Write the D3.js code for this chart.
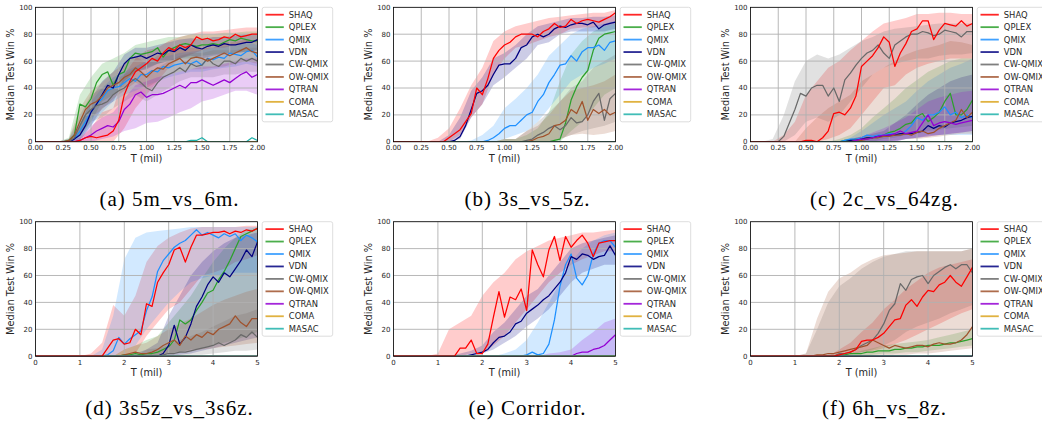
<!DOCTYPE html>
<html>
<head>
<meta charset="utf-8">
<script src="https://cdn.jsdelivr.net/npm/d3@7"></script>
<style>
    body { margin: 0; background: #fff; }
    .axis-text { font-family: "DejaVu Sans", sans-serif; fill: #262626; }
</style>
</head>
<body>
<svg id="fig" width="1042" height="421"></svg>
<script>
// legend order
var names = ["SHAQ", "QPLEX", "QMIX", "VDN", "CW-QMIX", "OW-QMIX", "QTRAN", "COMA", "MASAC"];
var colors = ["#ff0000", "#2ca02c", "#1e90ff", "#000080", "#696969", "#a0522d", "#9400d3", "#daa520", "#20b2aa"];

// T (mil) sample points
var tTop = [0,0.05,0.1,0.15,0.2,0.25,0.3,0.35,0.4,0.45,0.5,0.55,0.6,0.65,0.7,0.75,0.8,0.85,0.9,0.95,1,1.05,1.1,1.15,1.2,1.25,1.3,1.35,1.4,1.45,1.5,1.55,1.6,1.65,1.7,1.75,1.8,1.85,1.9,1.95,2];
var tBot = [0,0.125,0.25,0.375,0.5,0.625,0.75,0.875,1,1.125,1.25,1.375,1.5,1.625,1.75,1.875,2,2.125,2.25,2.375,2.5,2.625,2.75,2.875,3,3.125,3.25,3.375,3.5,3.625,3.75,3.875,4,4.125,4.25,4.375,4.5,4.625,4.75,4.875,5];
var bTop = [0,0.1,0.2,0.3,0.4,0.5,0.6,0.7,0.8,0.9,1,1.1,1.2,1.3,1.4,1.5,1.6,1.7,1.8,1.9,2];
var bBot = [0,0.25,0.5,0.75,1,1.25,1.5,1.75,2,2.25,2.5,2.75,3,3.25,3.5,3.75,4,4.25,4.5,4.75,5];

var ticksTop = [0, 0.25, 0.5, 0.75, 1, 1.25, 1.5, 1.75, 2];
var ticksBot = [0, 1, 2, 3, 4, 5];
var yTicks = [0, 20, 40, 60, 80, 100];

var flat41 = [0,0,0,0,0,0,0,0,0,0,0,0,0,0,0,0,0,0,0,0,0,0,0,0,0,0,0,0,0,0,0,0,0,0,0,0,0,0,0,0,0];
var flat21 = [0,0,0,0,0,0,0,0,0,0,0,0,0,0,0,0,0,0,0,0,0];

// (a) 5m_vs_6m medians
var shaqA  = [0,0,0,0,0,0,0,0,1,3,4,3,4,5,8,16,35,45,52,55,58,62,60,66,70,68,72,70,72,78,76,77,75,76,78,77,80,78,79,80,80];
var qplexA = [0,0,0,0,0,0,1,5,28,26,32,44,50,52,42,50,52,62,66,65,66,67,70,63,68,70,72,73,72,71,72,72,73,72,74,76,75,77,76,75,75];
var qmixA  = [0,0,0,0,0,0,0,2,8,15,22,28,32,38,40,41,44,47,45,50,50,53,52,56,55,57,58,59,58,60,57,62,61,63,62,66,65,64,67,68,63];
var vdnA   = [0,0,0,0,0,0,0,2,5,12,22,28,35,42,40,50,58,62,63,64,62,64,66,65,68,67,70,68,72,70,69,71,72,71,73,72,72,73,74,74,76];
var cwA    = [0,0,0,0,0,0,0,3,12,20,24,27,28,30,35,38,40,44,47,44,40,38,44,48,50,52,55,52,58,56,57,62,58,56,60,60,58,62,60,62,60];
var owA    = [0,0,0,0,0,0,1,5,15,24,28,30,34,40,42,44,48,50,55,52,48,52,55,54,58,60,62,58,62,63,62,60,62,64,66,64,66,68,70,67,66];
var qtranA = [0,0,0,0,0,0,0,0,1,3,5,8,10,12,11,15,24,28,35,37,33,35,35,36,38,40,42,40,44,44,46,44,42,44,46,44,47,50,52,48,50];
var masacA = [0,0,0,0,0,0,0,0,0,0,0,0,0,0,0,0,0,0,0,0,0,0,0,0,0,0,0,0,1,1,3,0,0,0,0,0,0,0,0,3,1];
// (a) spread
var shaqA_lo  = [0,0,0,0,0,0,0,0,10,25,35,45,55,62,65,68,70,70,72,74,74];
var shaqA_hi  = [0,0,0,0,3,10,22,25,50,62,68,70,75,78,80,82,82,83,84,85,85];
var qplexA_lo = [0,0,0,0,5,15,30,35,42,52,55,58,60,62,62,64,65,66,66,67,68];
var qplexA_hi = [0,0,0,3,35,48,58,62,66,72,74,76,78,78,80,80,80,81,81,82,82];
var qmixA_lo  = [0,0,0,0,2,12,22,30,35,38,42,45,48,50,52,52,54,55,56,58,56];
var qmixA_hi  = [0,0,0,2,15,30,40,48,52,56,60,62,64,66,67,68,70,71,72,74,72];
var vdnA_lo   = [0,0,0,0,1,12,25,30,45,52,54,58,60,62,64,62,64,65,66,67,68];
var vdnA_hi   = [0,0,0,1,12,32,45,52,65,70,70,72,74,76,77,76,78,78,79,80,80];
var cwA_lo    = [0,0,0,0,2,15,18,25,30,35,30,35,40,45,48,48,48,50,50,52,52];
var cwA_hi    = [0,0,0,2,20,35,40,45,50,55,50,55,60,64,66,66,68,68,68,70,70];
var owA_lo    = [0,0,0,0,5,18,24,32,38,44,40,45,50,52,54,54,55,56,58,60,58];
var owA_hi    = [0,0,0,2,25,38,44,52,58,64,58,64,66,70,70,70,70,74,74,76,74];
var qtranA_lo = [0,0,0,0,0,0,2,4,8,10,14,15,18,22,25,30,32,35,38,38,35];
var qtranA_hi = [0,0,0,0,2,12,18,22,32,42,45,48,50,52,54,56,56,58,60,62,62];

// (b) 3s_vs_5z
var shaqB  = [0,0,0,0,0,0,0,0,0,0,3,6,9,15,21,40,35,47,62,68,72,74,78,80,80,80,78,82,84,88,85,86,91,88,90,91,90,89,91,93,96];
var qplexB = [0,0,0,0,0,0,0,0,0,0,0,0,0,0,0,0,0,0,0,0,0,0,0,0,0,0,0,0,0,1,2,14,31,41,48,53,68,77,80,81,82];
var qmixB  = [0,0,0,0,0,0,0,0,0,0,0,0,0,0,0,0,0,1,3,6,10,12,12,16,20,22,30,35,44,50,57,58,64,60,67,70,70,72,68,74,75];
var vdnB   = [0,0,0,0,0,0,0,0,0,0,0,1,4,12,24,36,38,42,50,57,58,58,62,70,72,78,80,78,80,84,86,85,87,88,88,87,89,84,87,88,89];
var cwB    = [0,0,0,0,0,0,0,0,0,0,0,0,0,0,0,0,0,0,0,0,0,0,0,0,1,2,5,7,10,12,9,12,18,14,15,20,30,36,16,32,36];
var owB    = [0,0,0,0,0,0,0,0,0,0,0,0,0,0,0,0,0,0,0,0,0,0,0,0,0,1,3,4,6,12,13,16,24,21,30,16,24,21,24,20,22];
var shaqB_lo  = [0,0,0,0,0,0,5,18,28,50,62,70,72,75,78,80,84,85,85,86,88];
var shaqB_hi  = [0,0,0,0,3,10,25,42,55,75,82,86,88,90,92,93,94,95,96,96,98];
var qplexB_lo = [0,0,0,0,0,0,0,0,0,0,0,0,0,0,0,0,8,15,25,35,40];
var qplexB_hi = [0,0,0,0,0,0,0,0,0,0,2,2,5,10,22,45,65,75,82,86,88];
var qmixB_lo  = [0,0,0,0,0,0,0,0,0,0,2,5,8,15,25,35,45,50,55,58,62];
var qmixB_hi  = [0,0,0,0,0,0,0,1,5,12,25,32,40,50,64,72,80,84,86,88,90];
var vdnB_lo   = [0,0,0,0,0,0,2,18,28,42,48,55,62,72,74,80,82,82,82,82,84];
var vdnB_hi   = [0,0,0,0,0,5,18,38,48,62,66,72,80,86,88,90,92,92,93,93,94];
var cwB_lo    = [0,0,0,0,0,0,0,0,0,0,0,0,0,0,0,2,5,8,10,12,15];
var cwB_hi    = [0,0,0,0,0,0,0,0,0,0,2,2,8,15,22,30,40,45,55,60,65];
var owB_lo    = [0,0,0,0,0,0,0,0,0,0,0,0,0,0,0,2,5,6,5,6,8];
var owB_hi    = [0,0,0,0,0,0,0,0,0,0,2,2,8,12,20,30,38,40,42,45,50];

// (c) 2c_vs_64zg
var shaqC  = [0,0,0,0,0,0,0,0,0,0,1,1,0,3,8,21,22,20,25,34,56,60,64,70,78,74,56,66,73,82,84,90,90,76,83,88,87,86,90,86,88];
var qplexC = [0,0,0,0,0,0,0,0,0,0,0,0,0,0,0,0,0,1,1,2,2,3,3,4,5,7,8,10,13,14,19,21,15,18,22,30,36,20,20,24,31];
var qmixC  = [0,0,0,0,0,0,0,0,0,0,0,0,0,0,0,0,0,1,2,2,3,5,4,5,5,6,6,5,8,12,18,16,20,20,22,26,20,22,18,20,18];
var vdnC   = [0,0,0,0,0,0,0,0,0,0,0,0,0,0,0,0,0,0,1,1,2,3,3,4,4,5,5,6,6,6,7,8,12,10,12,11,14,15,16,18,19];
var cwC    = [0,0,0,0,0,0,4,14,24,36,34,40,42,42,34,40,30,46,51,57,62,66,68,72,66,62,72,75,78,80,80,82,81,79,80,83,82,81,78,82,82];
var owC    = [0,0,0,0,0,0,0,0,0,0,0,0,0,0,0,0,0,0,0,1,1,2,3,3,4,4,5,5,6,5,7,8,6,7,10,12,14,16,24,18,22];
var qtranC = [0,0,0,0,0,0,0,0,0,0,0,0,0,0,0,0,0,0,0,1,2,2,3,4,5,5,6,8,6,7,8,14,20,12,14,15,14,13,14,15,16];
var shaqC_lo  = [0,0,0,0,0,0,0,2,5,10,20,30,40,42,50,55,58,60,62,62,62];
var shaqC_hi  = [0,0,0,5,15,35,45,55,60,68,75,82,88,90,92,95,95,96,96,95,95];
var qplexC_lo = [0,0,0,0,0,0,0,0,0,0,0,0,2,3,5,6,8,9,10,11,12];
var qplexC_hi = [0,0,0,0,0,0,0,0,2,5,10,18,25,32,40,46,52,56,60,62,62];
var qmixC_lo  = [0,0,0,0,0,0,0,0,0,0,0,0,0,1,2,3,5,5,5,5,5];
var qmixC_hi  = [0,0,0,0,0,0,0,0,0,3,8,14,20,25,30,38,45,50,55,58,62];
var vdnC_lo   = [0,0,0,0,0,0,0,0,0,0,0,0,0,0,2,3,4,5,6,7,8];
var vdnC_hi   = [0,0,0,0,0,0,0,0,0,2,4,6,8,14,20,28,35,40,45,48,50];
var cwC_lo    = [0,0,0,0,5,15,18,15,20,30,40,50,55,58,60,62,62,64,65,65,66];
var cwC_hi    = [0,0,2,20,45,60,65,62,65,70,75,78,82,84,85,86,87,88,88,88,88];
var owC_lo    = [0,0,0,0,0,0,0,0,0,0,0,0,0,1,2,2,3,4,5,6,6];
var owC_hi    = [0,0,0,0,0,10,18,25,30,35,45,50,55,60,65,68,70,72,75,74,72];
var qtranC_lo = [0,0,0,0,0,0,0,0,0,0,0,0,0,0,2,3,4,5,6,7,8];
var qtranC_hi = [0,0,0,0,0,0,0,0,0,2,4,7,10,14,18,24,30,33,35,37,38];

// (d) 3s5z_vs_3s6z
var shaqD  = [0,0,0,0,0,0,0,0,0,0,0,0,0,6,12,13,9,10,20,16,39,37,55,62,68,79,81,70,81,90,90,91,92,92,93,91,93,92,94,93,95];
var qplexD = [0,0,0,0,0,0,0,0,0,0,0,0,0,0,0,0,1,1,2,1,2,2,3,5,7,12,27,24,27,34,40,47,49,57,63,71,80,89,91,93,95];
var qmixD  = [0,0,0,0,0,0,0,0,0,0,0,0,0,1,4,14,9,13,16,19,34,44,63,71,76,81,84,86,90,94,90,92,90,88,91,89,91,86,90,88,85];
var vdnD   = [0,0,0,0,0,0,0,0,0,0,0,0,0,0,0,0,0,0,0,0,0,0,0,2,8,23,9,14,24,37,44,53,59,55,62,59,65,71,79,74,85];
var cwD    = [0,0,0,0,0,0,0,0,0,0,0,0,0,0,0,0,0,0,0,0,0,0,0,1,2,2,3,3,4,5,6,7,8,10,8,10,12,16,14,18,14];
var owD    = [0,0,0,0,0,0,0,0,0,0,0,0,0,0,0,0,1,2,3,2,2,3,5,8,10,12,8,15,12,16,14,18,16,20,22,24,30,25,22,28,28];
var shaqD_lo  = [0,0,0,0,0,0,0,0,0,2,15,25,35,40,50,60,62,65,70,72,75];
var shaqD_hi  = [0,0,0,0,0,2,10,38,30,45,70,82,88,92,95,96,96,96,96,97,97];
var qplexD_lo = [0,0,0,0,0,0,0,0,0,0,0,0,2,3,5,6,8,10,12,15,18];
var qplexD_hi = [0,0,0,0,0,0,0,0,5,8,12,15,25,35,45,58,70,80,88,94,96];
var qmixD_lo  = [0,0,0,0,0,0,0,0,5,8,20,30,40,48,55,58,60,60,62,62,62];
var qmixD_hi  = [0,0,0,0,0,0,5,30,72,88,92,93,94,95,96,96,96,96,96,96,96];
var vdnD_lo   = [0,0,0,0,0,0,0,0,0,0,0,0,0,1,2,4,6,8,10,12,14];
var vdnD_hi   = [0,0,0,0,0,0,0,0,0,2,5,10,30,45,60,70,78,84,88,90,92];
var cwD_lo    = [0,0,0,0,0,0,0,0,0,0,0,0,0,0,1,1,2,3,4,4,5];
var cwD_hi    = [0,0,0,0,0,0,0,0,0,0,5,6,8,12,15,18,22,26,30,32,35];
var owD_lo    = [0,0,0,0,0,0,0,0,0,0,0,0,2,3,4,5,6,7,8,9,10];
var owD_hi    = [0,0,0,0,0,0,0,0,5,8,10,15,20,24,28,33,38,42,45,48,50];

// (e) Corridor
var shaqE  = [0,0,0,0,0,0,0,0,0,0,0,0,6,6,12,2,2,9,29,48,29,44,42,50,34,79,68,59,79,89,71,89,81,86,90,84,74,84,85,86,86];
var qmixE  = [0,0,0,0,0,0,0,0,0,0,0,0,0,0,0,0,0,0,0,0,0,0,0,0,1,3,1,2,9,27,52,68,76,58,53,60,76,84,86,86,81];
var vdnE   = [0,0,0,0,0,0,0,0,0,0,0,0,0,0,1,2,3,5,10,14,15,18,24,26,32,35,38,42,45,50,55,62,74,72,76,75,72,74,75,82,75];
var qtranE = [0,0,0,0,0,0,0,0,0,0,0,0,0,0,0,0,0,0,0,0,0,0,0,0,0,0,0,0,0,0,0,0,0,2,3,3,5,6,8,12,16];
var shaqE_lo  = [0,0,0,0,0,0,0,2,2,8,15,25,35,45,55,62,68,72,75,78,78];
var shaqE_hi  = [0,0,0,0,2,20,25,30,45,55,62,72,78,82,86,88,90,92,92,93,94];
var qmixE_hi  = [0,0,0,0,0,0,0,0,0,0,2,5,12,25,40,55,70,80,86,90,92];
var vdnE_lo   = [0,0,0,0,0,0,0,0,2,5,10,15,22,28,35,45,55,62,65,68,68];
var vdnE_hi   = [0,0,0,0,0,0,2,4,8,18,25,35,45,50,60,70,80,84,86,88,90];
var qtranE_hi = [0,0,0,0,0,0,0,0,0,0,0,0,0,0,2,3,5,12,18,25,28];

// (f) 6h_vs_8z
var shaqF  = [0,0,0,0,0,0,0,0,0,0,0,0,0,0,0,0,1,2,3,5,11,12,12,14,17,22,27,28,38,42,37,44,49,48,53,55,60,55,52,59,66];
var qplexF = [0,0,0,0,0,0,0,0,0,0,0,0,0,0,0,0,1,1,2,2,2,3,3,4,4,4,5,5,6,6,7,7,8,8,8,9,10,10,11,12,13];
var cwF    = [0,0,0,0,0,0,0,0,0,0,0,0,0,0,0,0,2,2,3,5,8,10,12,17,24,34,39,54,49,57,59,60,54,60,63,66,68,65,68,68,62];
var owF    = [0,0,0,0,0,0,0,0,0,0,0,0,1,1,2,2,3,4,5,6,7,8,12,10,8,6,8,7,6,7,8,8,7,9,10,9,9,10,12,16,22];
var shaqF_lo  = [0,0,0,0,0,0,0,0,0,1,3,4,6,9,12,16,20,24,28,32,35];
var shaqF_hi  = [0,0,0,0,0,0,0,0,5,10,18,25,35,42,50,56,62,66,68,70,72];
var qplexF_lo = [0,0,0,0,0,0,0,0,0,0,0,1,2,2,3,3,4,5,6,7,8];
var qplexF_hi = [0,0,0,0,0,0,0,0,1,2,4,6,8,9,10,11,12,14,16,18,20];
var cwF_lo    = [0,0,0,0,0,0,0,0,1,2,3,5,8,12,18,22,25,28,32,35,38];
var cwF_hi    = [0,0,0,0,0,2,20,40,52,58,65,70,74,76,78,78,78,78,78,78,80];
var owF_lo    = [0,0,0,0,0,0,0,0,0,0,0,0,0,1,1,2,2,3,4,5,6];
var owF_hi    = [0,0,0,0,0,2,28,48,58,62,68,72,75,76,77,78,78,78,78,78,80];

// panel table, series in legend order
var panels = [
    {caption: "(a) 5m_vs_6m.", col: 0, row: 0, t: tTop, bt: bTop, xmax: 2, ticks: ticksTop, fmt: d3.format(".2f"),
        lines: [shaqA, qplexA, qmixA, vdnA, cwA, owA, qtranA, flat41, masacA],
        bands: [[shaqA_lo, shaqA_hi], [qplexA_lo, qplexA_hi], [qmixA_lo, qmixA_hi], [vdnA_lo, vdnA_hi],
            [cwA_lo, cwA_hi], [owA_lo, owA_hi], [qtranA_lo, qtranA_hi], null, null]},
    {caption: "(b) 3s_vs_5z.", col: 1, row: 0, t: tTop, bt: bTop, xmax: 2, ticks: ticksTop, fmt: d3.format(".2f"),
        lines: [shaqB, qplexB, qmixB, vdnB, cwB, owB, flat41, flat41, flat41],
        bands: [[shaqB_lo, shaqB_hi], [qplexB_lo, qplexB_hi], [qmixB_lo, qmixB_hi], [vdnB_lo, vdnB_hi],
            [cwB_lo, cwB_hi], [owB_lo, owB_hi], null, null, null]},
    {caption: "(c) 2c_vs_64zg.", col: 2, row: 0, t: tTop, bt: bTop, xmax: 2, ticks: ticksTop, fmt: d3.format(".2f"),
        lines: [shaqC, qplexC, qmixC, vdnC, cwC, owC, qtranC, flat41, flat41],
        bands: [[shaqC_lo, shaqC_hi], [qplexC_lo, qplexC_hi], [qmixC_lo, qmixC_hi], [vdnC_lo, vdnC_hi],
            [cwC_lo, cwC_hi], [owC_lo, owC_hi], [qtranC_lo, qtranC_hi], null, null]},
    {caption: "(d) 3s5z_vs_3s6z.", col: 0, row: 1, t: tBot, bt: bBot, xmax: 5, ticks: ticksBot, fmt: d3.format("d"),
        lines: [shaqD, qplexD, qmixD, vdnD, cwD, owD, flat41, flat41, flat41],
        bands: [[shaqD_lo, shaqD_hi], [qplexD_lo, qplexD_hi], [qmixD_lo, qmixD_hi], [vdnD_lo, vdnD_hi],
            [cwD_lo, cwD_hi], [owD_lo, owD_hi], null, null, null]},
    {caption: "(e) Corridor.", col: 1, row: 1, t: tBot, bt: bBot, xmax: 5, ticks: ticksBot, fmt: d3.format("d"),
        lines: [shaqE, flat41, qmixE, vdnE, flat41, flat41, qtranE, flat41, flat41],
        bands: [[shaqE_lo, shaqE_hi], null, [flat21, qmixE_hi], [vdnE_lo, vdnE_hi],
            null, null, [flat21, qtranE_hi], null, null]},
    {caption: "(f) 6h_vs_8z.", col: 2, row: 1, t: tBot, bt: bBot, xmax: 5, ticks: ticksBot, fmt: d3.format("d"),
        lines: [shaqF, qplexF, flat41, flat41, cwF, owF, flat41, flat41, flat41],
        bands: [[shaqF_lo, shaqF_hi], [qplexF_lo, qplexF_hi], null, null,
            [cwF_lo, cwF_hi], [owF_lo, owF_hi], null, null, null]}
];

var colLeft = [35.5, 393.5, 750.5],
    rowTop = [7.3, 221.7],
    pw = 222, ph = 134.5;
var gridColor = "#b0b0b0";

var svg = d3.select("#fig");
svg.append("rect").attr("width", 1042).attr("height", 421).attr("fill", "#fff");

panels.forEach(function (p, pi) {
    var g = svg.append("g")
        .attr("transform", "translate(" + colLeft[p.col] + "," + rowTop[p.row] + ")");

    var x = d3.scaleLinear().domain([0, p.xmax]).range([0, pw]),
        y = d3.scaleLinear().domain([0, 100]).range([ph, 0]);

    g.append("clipPath").attr("id", "clip" + pi)
        .append("rect").attr("width", pw).attr("height", ph);

    var inner = g.append("g").attr("clip-path", "url(#clip" + pi + ")");

    // shaded spread
    p.bands.forEach(function (b, i) {
        if (!b) return;
        var area = d3.area()
            .x(function (d, k) { return x(p.bt[k]); })
            .y0(function (d, k) { return y(b[0][k]); })
            .y1(function (d, k) { return y(b[1][k]); });
        inner.append("path")
            .datum(p.bt)
            .attr("d", area)
            .attr("fill", colors[i])
            .attr("fill-opacity", 0.2);
    });

    // grid over the bands, under the lines
    inner.selectAll(".vgrid").data(p.ticks).enter().append("line")
        .attr("x1", function (d) { return x(d); }).attr("x2", function (d) { return x(d); })
        .attr("y1", 0).attr("y2", ph)
        .attr("stroke", gridColor).attr("stroke-width", 0.9);
    inner.selectAll(".hgrid").data(yTicks).enter().append("line")
        .attr("x1", 0).attr("x2", pw)
        .attr("y1", function (d) { return y(d); }).attr("y2", function (d) { return y(d); })
        .attr("stroke", gridColor).attr("stroke-width", 0.9);

    var line = d3.line()
        .defined(function (d) { return d != null && !isNaN(d); })
        .x(function (d, k) { return x(p.t[k]); })
        .y(function (d) { return y(d); });

    // SHAQ drawn last so it sits on top
    [1, 2, 3, 4, 5, 6, 7, 8, 0].forEach(function (i) {
        inner.append("path")
            .datum(p.lines[i])
            .attr("d", line)
            .attr("fill", "none")
            .attr("stroke", colors[i])
            .attr("stroke-width", 1.25)
            .attr("stroke-linejoin", "round");
    });

    g.append("rect")
        .attr("width", pw).attr("height", ph)
        .attr("fill", "none").attr("stroke", "#000").attr("stroke-width", 0.8);

    // tick labels
    g.selectAll(".xt").data(p.ticks).enter().append("text")
        .attr("class", "axis-text")
        .attr("x", function (d) { return x(d); })
        .attr("y", ph + 8.6)
        .attr("text-anchor", "middle")
        .style("font-size", "7px")
        .text(function (d) { return p.fmt(d); });
    g.selectAll(".yt").data(yTicks).enter().append("text")
        .attr("class", "axis-text")
        .attr("x", -3)
        .attr("y", function (d) { return y(d) + 2.5; })
        .attr("text-anchor", "end")
        .style("font-size", "7px")
        .text(function (d) { return d; });

    g.append("text")
        .attr("class", "axis-text")
        .attr("x", pw / 2).attr("y", ph + 20.2)
        .attr("text-anchor", "middle")
        .style("font-size", "9.8px")
        .text("T (mil)");
    g.append("text")
        .attr("class", "axis-text")
        .attr("transform", "translate(-25," + (ph / 2) + ") rotate(-90)")
        .attr("text-anchor", "middle")
        .attr("dy", "0.35em")
        .style("font-size", "9.8px")
        .text("Median Test Win %");

    // legend (the right-hand column runs off the page, as in the source figure)
    var lg = g.append("g").attr("transform", "translate(" + (pw + 4.7) + ",0)");
    lg.append("rect")
        .attr("width", 70.5).attr("height", 114.5).attr("rx", 2)
        .attr("fill", "#fff").attr("fill-opacity", 0.9)
        .attr("stroke", "#d4d4d4").attr("stroke-width", 0.8);
    names.forEach(function (n, i) {
        var ry = 7.4 + i * 12.45;
        lg.append("line")
            .attr("x1", 3.3).attr("x2", 21.6)
            .attr("y1", ry).attr("y2", ry)
            .attr("stroke", colors[i]).attr("stroke-width", 1.8).attr("stroke-opacity", 0.85);
        lg.append("text")
            .attr("class", "axis-text")
            .attr("x", 26.6).attr("y", ry)
            .attr("dy", "0.35em")
            .style("font-size", "8.4px")
            .text(n);
    });

    svg.append("text")
        .attr("x", colLeft[p.col] + pw / 2 + 23)
        .attr("y", p.row === 0 ? 205.5 : 415)
        .attr("text-anchor", "middle")
        .style("font-family", "'Liberation Serif', 'Times New Roman', serif")
        .style("fill", "#000")
        .style("font-size", "21px")
        .style("letter-spacing", "1px")
        .text(p.caption);
});
</script>
</body>
</html>
